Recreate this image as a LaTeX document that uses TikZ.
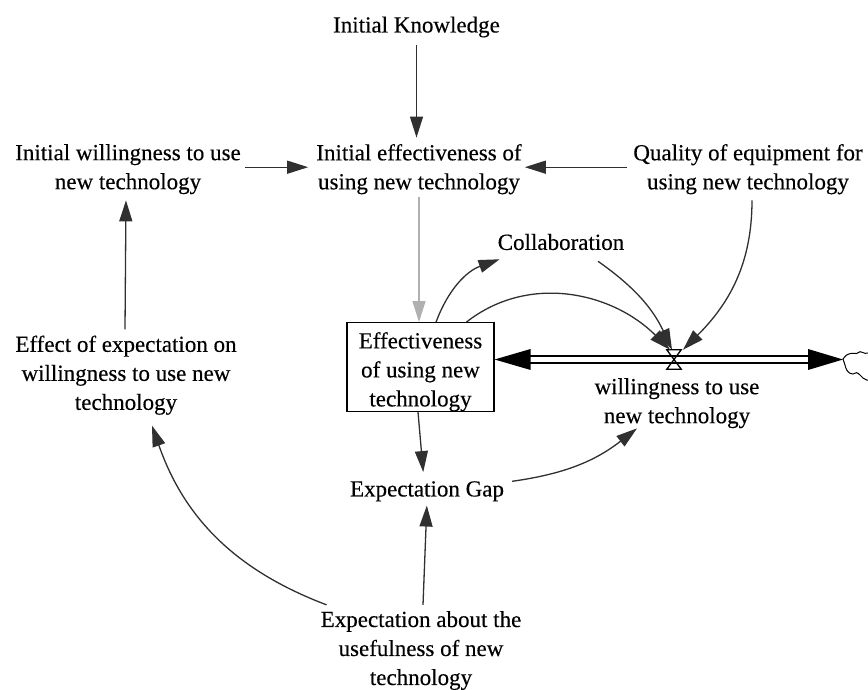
\documentclass[tikz,border=0pt]{standalone}
\usepackage{fontspec}
\setmainfont[FakeBold=0.3]{Liberation Serif}
\usetikzlibrary{arrows.meta,calc}
\definecolor{linkgray}{HTML}{303030}
\definecolor{initgray}{HTML}{B0B0B0}
\begin{document}
\begin{tikzpicture}[x=1pt,y=1pt,
  every node/.style={font=\fontsize{23}{29}\selectfont},
  var/.style={align=center, inner sep=0pt},
  stock/.style={draw=black, line width=1.2pt, align=center, inner sep=0pt, minimum width=147pt},
  link/.style={draw=linkgray, line width=1.3pt, -{Triangle[length=21pt,width=13pt]}},
  initlink/.style={link, draw=initgray},
  pipeout/.style={draw=black, line width=8.5pt},
  pipein/.style={draw=white, line width=5.5pt},
  flowhead/.style={fill=black},
  valveline/.style={draw=black, line width=1.3pt, line join=miter},
  cloudline/.style={draw=black, line width=1pt, line cap=round}
]
\useasboundingbox (0,0) rectangle (868,689);
\clip (0,0) rectangle (868,689);

% auxiliaries and constants
\node[var] (ik) at (416.5,662) {Initial Knowledge};
\node[var] (iw) at (128,519.8) {Initial willingness to use\\new technology};
\node[var] (ie) at (419,519.8) {Initial effectiveness of\\using new technology};
\node[var] (q)  at (748,519.8) {Quality of equipment for\\using new technology};
\node[var] (collab) at (561,447) {Collaboration};
\node[var] (wl) at (677,285.8) {willingness to use\\new technology};
\node[var] (gap) at (427,197.7) {Expectation Gap};
\node[var] (ea) at (421,38.5) {Expectation about the\\usefulness of new\\technology};
\node[var] (ee) at (126,313.8) {Effect of expectation on\\willingness to use new\\technology};

% stock
\node[stock] (box) at (420.5,322) {\rule{0pt}{25.7pt}Effectiveness\\of using new\\technology};

% flow: pipe, valve, source/sink cloud
\node[inner sep=0pt, minimum width=14pt, minimum height=19pt] (valve) at (674,329.5) {};
\coordinate (cloud) at (843,329.5);
\draw[pipeout, shorten <=30pt, shorten >=30pt] (box.east |- valve.center) -- (cloud);
\draw[pipein, shorten <=30pt, shorten >=30pt] (box.east |- valve.center) -- (cloud);
\fill[flowhead] (box.east |- valve.center) -- ++(36,10.5) -- ++(0,-21) -- cycle;
\fill[flowhead] (cloud) -- ++(-35,10.5) -- ++(0,-21) -- cycle;
\draw[valveline] (valve.north west) -- (valve.north east) -- (valve.south west) -- (valve.south east) -- cycle;
\begin{scope}[shift={(cloud)}]
  \draw[cloudline] plot[smooth, tension=0.6] coordinates {(0,0.5) (3.7,4.5) (8.7,6.2) (13.7,6) (17,7.8) (22,6.2) (27,6.5) (35,8)};
  \draw[cloudline] plot[smooth, tension=0.6] coordinates {(0,0.5) (2,-5.5) (3.7,-10.5) (7,-13.8) (10,-14.5) (13.7,-13.2) (17,-15.5) (20.3,-18.8) (23.7,-20.5) (30,-21)};
\end{scope}

% causal links
\draw[link, shorten <=7.7pt, shorten >=6.3pt] (ik.south) -- (ik.south |- ie.north);
\draw[link, shorten <=4pt, shorten >=8pt] ([yshift=2pt]iw.east) -- ([yshift=2pt]ie.west);
\draw[link, shorten <=6pt, shorten >=3pt] ([yshift=2pt]q.west) -- ([yshift=2pt]ie.east);
\draw[initlink, shorten <=3pt] (ie.south) -- (ie.south |- box.north);
\draw[link] ($(box.north west)!0.605!(box.north east)$) to[bend left=25] ([shift={(2pt,-9pt)}]collab.south west);
\draw[link] ($(box.north west)!0.81!(box.north east)$) to[out=38,in=135] ([xshift=-4pt]valve.north);
\draw[link] ([shift={(37pt,-11pt)}]collab.south) to[bend left=15] ([xshift=-2pt]valve.north);
\draw[link] ([shift={(4pt,-6pt)}]q.south) to[out=-90,in=45] ([xshift=9pt]valve.north);
\draw[link, shorten >=9pt] ([xshift=-2.5pt]box.south) -- ([xshift=-3pt]gap.north);
\draw[link] ([shift={(8pt,10pt)}]gap.east) to[bend right=15] ([xshift=-40pt]wl.south);
\draw[link, shorten >=4pt] ([shift={(2pt,6pt)}]ea.north) -- (gap.south);
\draw[link] ([shift={(6pt,6pt)}]ea.north west) to[bend left=25] ([shift={(26pt,-10.6pt)}]ee.south);
\draw[link, shorten >=2pt] ([shift={(-1pt,6pt)}]ee.north) -- ([shift={(-2pt,-4pt)}]iw.south);
\end{tikzpicture}
\end{document}
